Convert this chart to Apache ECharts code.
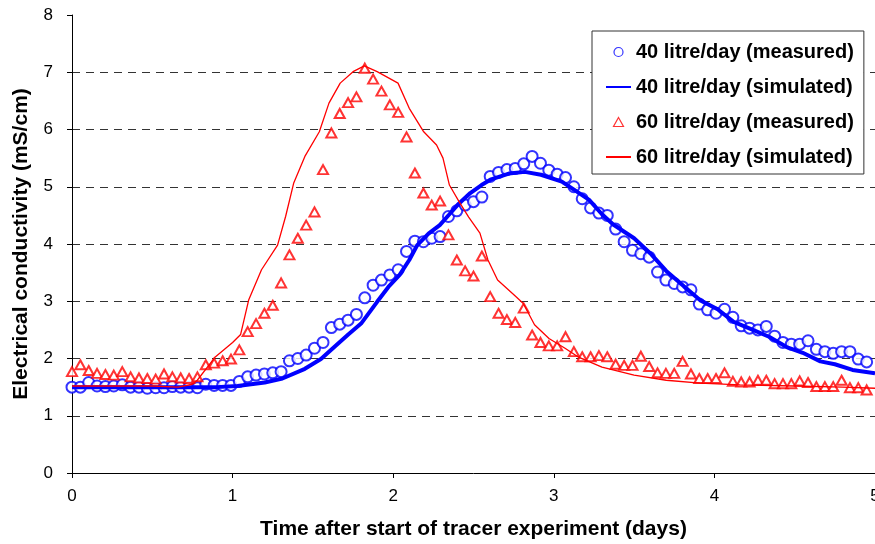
<!DOCTYPE html>
<html>
<head>
<meta charset="utf-8">
<script src="https://cdn.jsdelivr.net/npm/echarts@6/dist/echarts.min.js"></script>
<style>
html,body{margin:0;padding:0;background:#fff;}
#c{width:875px;height:544px;}
</style>
</head>
<body>
<div id="c"></div>
<script>
// Measurement times (days)
const times = [0,0.052,0.104,0.156,0.208,0.26,0.313,0.365,0.417,0.469,0.521,0.573,0.625,0.677,0.729,0.781,
0.833,0.885,0.938,0.99,1.042,1.094,1.146,1.198,1.25,1.302,1.354,1.406,1.458,1.51,1.563,1.615,
1.667,1.719,1.771,1.823,1.875,1.927,1.979,2.031,2.083,2.135,2.188,2.24,2.292,2.344,2.396,2.448,
2.5,2.552,2.604,2.656,2.708,2.76,2.813,2.865,2.917,2.969,3.021,3.073,3.125,3.177,3.229,3.281,
3.333,3.385,3.438,3.49,3.542,3.594,3.646,3.698,3.75,3.802,3.854,3.906,3.958,4.01,4.063,4.115,
4.167,4.219,4.271,4.323,4.375,4.427,4.479,4.531,4.583,4.635,4.688,4.74,4.792,4.844,4.896,4.948];

// 40 litre/day measured EC (mS/cm)
const measured40 = [1.50,1.50,1.58,1.52,1.51,1.52,1.54,1.50,1.50,1.48,1.49,1.49,1.51,1.50,1.50,1.49,
1.55,1.53,1.53,1.53,1.60,1.68,1.71,1.73,1.75,1.77,1.96,2.00,2.06,2.18,2.28,2.54,
2.60,2.67,2.77,3.06,3.28,3.37,3.46,3.55,3.87,4.05,4.04,4.10,4.13,4.48,4.58,4.68,
4.74,4.82,5.18,5.25,5.30,5.32,5.40,5.53,5.41,5.29,5.22,5.16,5.00,4.79,4.63,4.54,
4.50,4.26,4.04,3.89,3.83,3.77,3.51,3.37,3.31,3.25,3.20,2.95,2.85,2.79,2.86,2.72,
2.57,2.53,2.50,2.56,2.39,2.28,2.25,2.25,2.31,2.16,2.12,2.09,2.12,2.12,1.99,1.94];

// 60 litre/day measured EC (mS/cm)
const measured60 = [1.77,1.89,1.79,1.74,1.72,1.71,1.77,1.68,1.66,1.65,1.64,1.73,1.68,1.66,1.65,1.68,
1.89,1.92,1.96,1.99,2.15,2.47,2.61,2.79,2.93,3.32,3.81,4.10,4.33,4.56,5.30,5.94,
6.28,6.47,6.57,7.07,6.88,6.67,6.43,6.30,5.87,5.24,4.89,4.68,4.75,4.16,3.72,3.53,
3.44,3.79,3.08,2.79,2.68,2.63,2.88,2.41,2.28,2.22,2.22,2.38,2.12,2.03,2.03,2.05,
2.03,1.90,1.88,1.88,2.04,1.86,1.75,1.74,1.74,1.95,1.73,1.65,1.65,1.65,1.75,1.60,
1.59,1.59,1.62,1.62,1.56,1.56,1.56,1.61,1.58,1.51,1.51,1.51,1.62,1.49,1.49,1.45];

// 40 litre/day simulated
const simTime40 = [0,0.3,0.6,0.9,1.03,1.2,1.31,1.45,1.55,1.64,1.72,1.80,1.90,1.97,2.04,2.10,2.15,2.22,2.29,2.35,2.40,2.48,2.55,2.61,2.72,2.82,2.92,3.05,3.13,3.22,3.30,3.37,3.50,3.60,3.70,3.81,3.91,4.02,4.12,4.24,4.34,4.45,4.55,4.66,4.75,4.86,5.0];
const simValue40 = [1.50,1.50,1.50,1.50,1.52,1.58,1.65,1.82,1.99,2.22,2.42,2.61,2.99,3.25,3.46,3.72,3.98,4.18,4.33,4.52,4.68,4.89,5.03,5.13,5.23,5.26,5.21,5.09,4.94,4.77,4.52,4.34,4.10,3.84,3.53,3.26,3.02,2.86,2.64,2.50,2.38,2.20,2.10,1.95,1.90,1.80,1.74];

// 60 litre/day simulated
const simTime60 = [0,0.3,0.5,0.66,0.75,0.78,0.89,1.0,1.05,1.10,1.18,1.28,1.33,1.38,1.45,1.54,1.60,1.67,1.75,1.82,1.90,2.03,2.10,2.19,2.27,2.31,2.35,2.41,2.47,2.54,2.59,2.65,2.76,2.81,2.88,2.97,3.07,3.15,3.30,3.50,3.70,3.91,4.16,4.5,4.8,5.0];
const simValue60 = [1.52,1.52,1.52,1.50,1.55,1.62,2.02,2.28,2.42,3.02,3.55,3.98,4.48,5.06,5.53,5.96,6.46,6.81,7.01,7.11,7.01,6.81,6.37,5.96,5.73,5.50,5.03,4.74,4.47,4.19,3.72,3.37,3.09,2.96,2.59,2.35,2.18,2.03,1.85,1.71,1.62,1.57,1.54,1.52,1.50,1.48];

const seriesNames = ['40 litre/day (measured)','40 litre/day (simulated)','60 litre/day (measured)','60 litre/day (simulated)'];
const xTitle = 'Time after start of tracer experiment (days)';
const yTitle = 'Electrical conductivity (mS/cm)';

const zip = (a, b) => a.map((v, i) => [v, b[i]]);
const FONT = '"Liberation Sans", Arial, Helvetica, sans-serif';

const chart = echarts.init(document.getElementById('c'), null, {renderer: 'canvas'});
chart.setOption({
  animation: false,
  backgroundColor: '#ffffff',
  grid: {left: 72, right: 0, top: 15, bottom: 71, containLabel: false, outerBoundsMode: 'none'},
  legend: {
    data: [
      {name: seriesNames[0], icon: 'circle', itemStyle: {color: '#ffffff', borderColor: '#0000ff', borderWidth: 1.2}},
      {name: seriesNames[1], itemStyle: {opacity: 0}},
      {name: seriesNames[2], icon: 'path://M5,0L10,9L0,9Z', itemStyle: {color: '#ffffff', borderColor: '#ff0000', borderWidth: 1.2}},
      {name: seriesNames[3], itemStyle: {opacity: 0}}
    ],
    orient: 'vertical',
    left: 592, top: 31,
    padding: [10, 10, 6, 13],
    itemWidth: 25, itemHeight: 9, itemGap: 13,
    symbolKeepAspect: true,
    backgroundColor: '#ffffff',
    borderColor: '#333', borderWidth: 1,
    textStyle: {fontFamily: FONT, fontWeight: 'bold', fontSize: 20, lineHeight: 22, color: '#000'}
  },
  xAxis: {
    type: 'value', min: 0, max: 5, interval: 1,
    name: xTitle, nameLocation: 'middle', nameGap: 46,
    nameTextStyle: {fontFamily: FONT, fontWeight: 'bold', fontSize: 21, color: '#000'},
    axisLine: {onZero: false, lineStyle: {color: '#000', width: 1}},
    axisTick: {show: true, inside: false, length: 5, lineStyle: {color: '#000'}},
    axisLabel: {fontFamily: FONT, fontSize: 17, color: '#000', margin: 15},
    splitLine: {show: false}
  },
  yAxis: {
    type: 'value', min: 0, max: 8, interval: 1,
    name: yTitle, nameLocation: 'middle', nameGap: 40, nameRotate: 90,
    nameTextStyle: {fontFamily: FONT, fontWeight: 'bold', fontSize: 21, color: '#000'},
    axisLine: {show: true, lineStyle: {color: '#000', width: 1}},
    axisTick: {show: true, inside: false, length: 5, lineStyle: {color: '#000'}},
    axisLabel: {fontFamily: FONT, fontSize: 17, color: '#000', margin: 19},
    splitLine: {show: true, showMinLine: false, showMaxLine: false, lineStyle: {color: '#333', width: 1, type: [8, 6]}}
  },
  series: [
    {
      name: seriesNames[0], type: 'scatter', data: zip(times, measured40),
      symbol: 'emptyCircle', symbolSize: 11,
      itemStyle: {color: '#0000ff', borderColor: '#0000ff', borderWidth: 1.2}
    },
    {
      name: seriesNames[1], type: 'line', data: zip(simTime40, simValue40),
      symbol: 'none', showSymbol: false, smooth: false,
      lineStyle: {color: '#0000ff', width: 4}, itemStyle: {color: '#0000ff'}
    },
    {
      name: seriesNames[2], type: 'scatter', data: zip(times, measured60),
      symbol: 'emptyTriangle', symbolSize: [10, 9],
      itemStyle: {color: '#ff0000', borderColor: '#ff0000', borderWidth: 1.2}
    },
    {
      name: seriesNames[3], type: 'line', data: zip(simTime60, simValue60),
      symbol: 'none', showSymbol: false, smooth: false,
      lineStyle: {color: '#ff0000', width: 1.3}, itemStyle: {color: '#ff0000'}
    }
  ]
});
</script>
</body>
</html>
